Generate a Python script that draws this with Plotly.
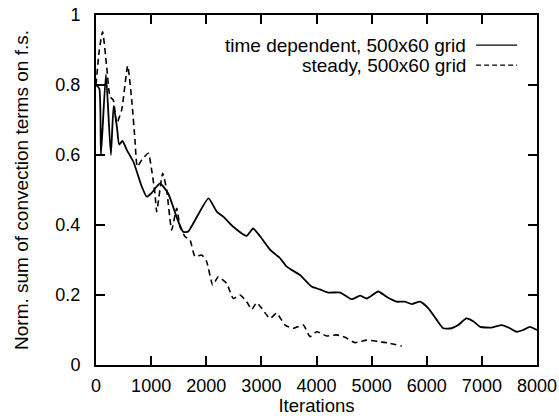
import plotly.graph_objects as go

# time dependent, 500x60 grid
td_iter = [0, 60, 90, 180, 270, 320, 380, 420, 480, 560, 680, 830, 920, 1000, 1160,
           1310, 1460, 1580, 1670, 2040, 2190, 2310, 2490, 2730, 2850, 2980, 3160,
           3340, 3460, 3700, 3910, 4060, 4210, 4430, 4640, 4790, 4910, 5120, 5270,
           5450, 5600, 5730, 5880, 6030, 6180, 6300, 6450, 6570, 6720, 6850, 6970,
           7180, 7360, 7510, 7630, 7750, 7870, 8000]
td_val = [0.80, 0.79, 0.60, 0.83, 0.60, 0.74, 0.68, 0.63, 0.64, 0.614, 0.58, 0.51,
          0.481, 0.49, 0.519, 0.49, 0.424, 0.381, 0.381, 0.476, 0.438, 0.424, 0.395,
          0.369, 0.39, 0.367, 0.329, 0.305, 0.281, 0.257, 0.224, 0.216, 0.207, 0.207,
          0.188, 0.198, 0.190, 0.210, 0.195, 0.181, 0.181, 0.174, 0.181, 0.162, 0.129,
          0.105, 0.105, 0.114, 0.133, 0.124, 0.109, 0.107, 0.114, 0.105, 0.095, 0.100,
          0.109, 0.100]

# steady, 500x60 grid
st_iter = [0, 60, 120, 194, 254, 314, 375, 466, 575, 648, 707, 749, 829, 949, 1010,
           1070, 1101, 1210, 1282, 1373, 1464, 1524, 1614, 1705, 1795, 1917, 2008,
           2117, 2219, 2371, 2491, 2612, 2734, 2824, 2915, 3006, 3156, 3278, 3429,
           3579, 3760, 3882, 4003, 4185, 4366, 4517, 4698, 4911, 5121, 5333, 5545]
st_val = [0.80, 0.90, 0.952, 0.852, 0.767, 0.757, 0.69, 0.729, 0.855, 0.757, 0.643,
          0.567, 0.586, 0.605, 0.557, 0.49, 0.438, 0.548, 0.50, 0.386, 0.448, 0.395,
          0.367, 0.357, 0.31, 0.314, 0.295, 0.229, 0.252, 0.233, 0.19, 0.20, 0.181,
          0.159, 0.178, 0.162, 0.133, 0.148, 0.114, 0.105, 0.114, 0.081, 0.095, 0.083,
          0.086, 0.079, 0.064, 0.071, 0.067, 0.062, 0.054]

x_ticks = [0, 1000, 2000, 3000, 4000, 5000, 6000, 7000, 8000]
y_ticks = [0, 0.2, 0.4, 0.6, 0.8, 1]
y_tick_text = ["0", "0.2", "0.4", "0.6", "0.8", "1"]

legend_labels = ["time dependent, 500x60 grid", "steady, 500x60 grid"]

FONT = "Liberation Sans, Arial, Helvetica, sans-serif"

fig = go.Figure()
fig.add_trace(go.Scatter(x=td_iter, y=td_val, mode="lines",
                         line=dict(color="black", width=1.8, shape="spline", smoothing=0.5),
                         name=legend_labels[0], showlegend=False))
fig.add_trace(go.Scatter(x=st_iter, y=st_val, mode="lines",
                         line=dict(color="black", width=1.6, dash="6px,4px", shape="spline", smoothing=0.5),
                         name=legend_labels[1], showlegend=False))

axis_common = dict(showline=True, linecolor="black", linewidth=2, mirror="ticks",
                   ticks="inside", ticklen=9, tickwidth=1.5, tickcolor="black",
                   showgrid=False, zeroline=False,
                   tickfont=dict(family=FONT, size=18, color="black"))

fig.update_xaxes(range=[0, 8000], tickvals=x_ticks, ticktext=[str(v) for v in x_ticks],
                 title=dict(text="Iterations", font=dict(family=FONT, size=18.5, color="black"), standoff=0),
                 ticklabelstandoff=3, **axis_common)
fig.update_yaxes(range=[0, 1], tickvals=y_ticks, ticktext=y_tick_text,
                 title=dict(text="Norm. sum of convection terms on f.s.",
                            font=dict(family=FONT, size=19, color="black"), standoff=22),
                 ticklabelstandoff=10, **axis_common)

# legend (text right, sample on right)
rows_y = [0.914, 0.857]
dashes = ["solid", "5px,3px"]
for lab, yy, dsh in zip(legend_labels, rows_y, dashes):
    fig.add_annotation(x=0.8435, y=yy, xref="paper", yref="paper", text=lab,
                       showarrow=False, xanchor="right", yanchor="middle",
                       font=dict(family=FONT, size=19, color="black"))
    fig.add_shape(type="line", xref="paper", yref="paper", x0=0.862, x1=0.955,
                  y0=yy, y1=yy, line=dict(color="black", width=1.2, dash=dsh))

fig.update_layout(width=559, height=416, margin=dict(l=96, r=22, t=15, b=51, autoexpand=False),
                  paper_bgcolor="white", plot_bgcolor="white", showlegend=False)

fig.write_html("out.html")
